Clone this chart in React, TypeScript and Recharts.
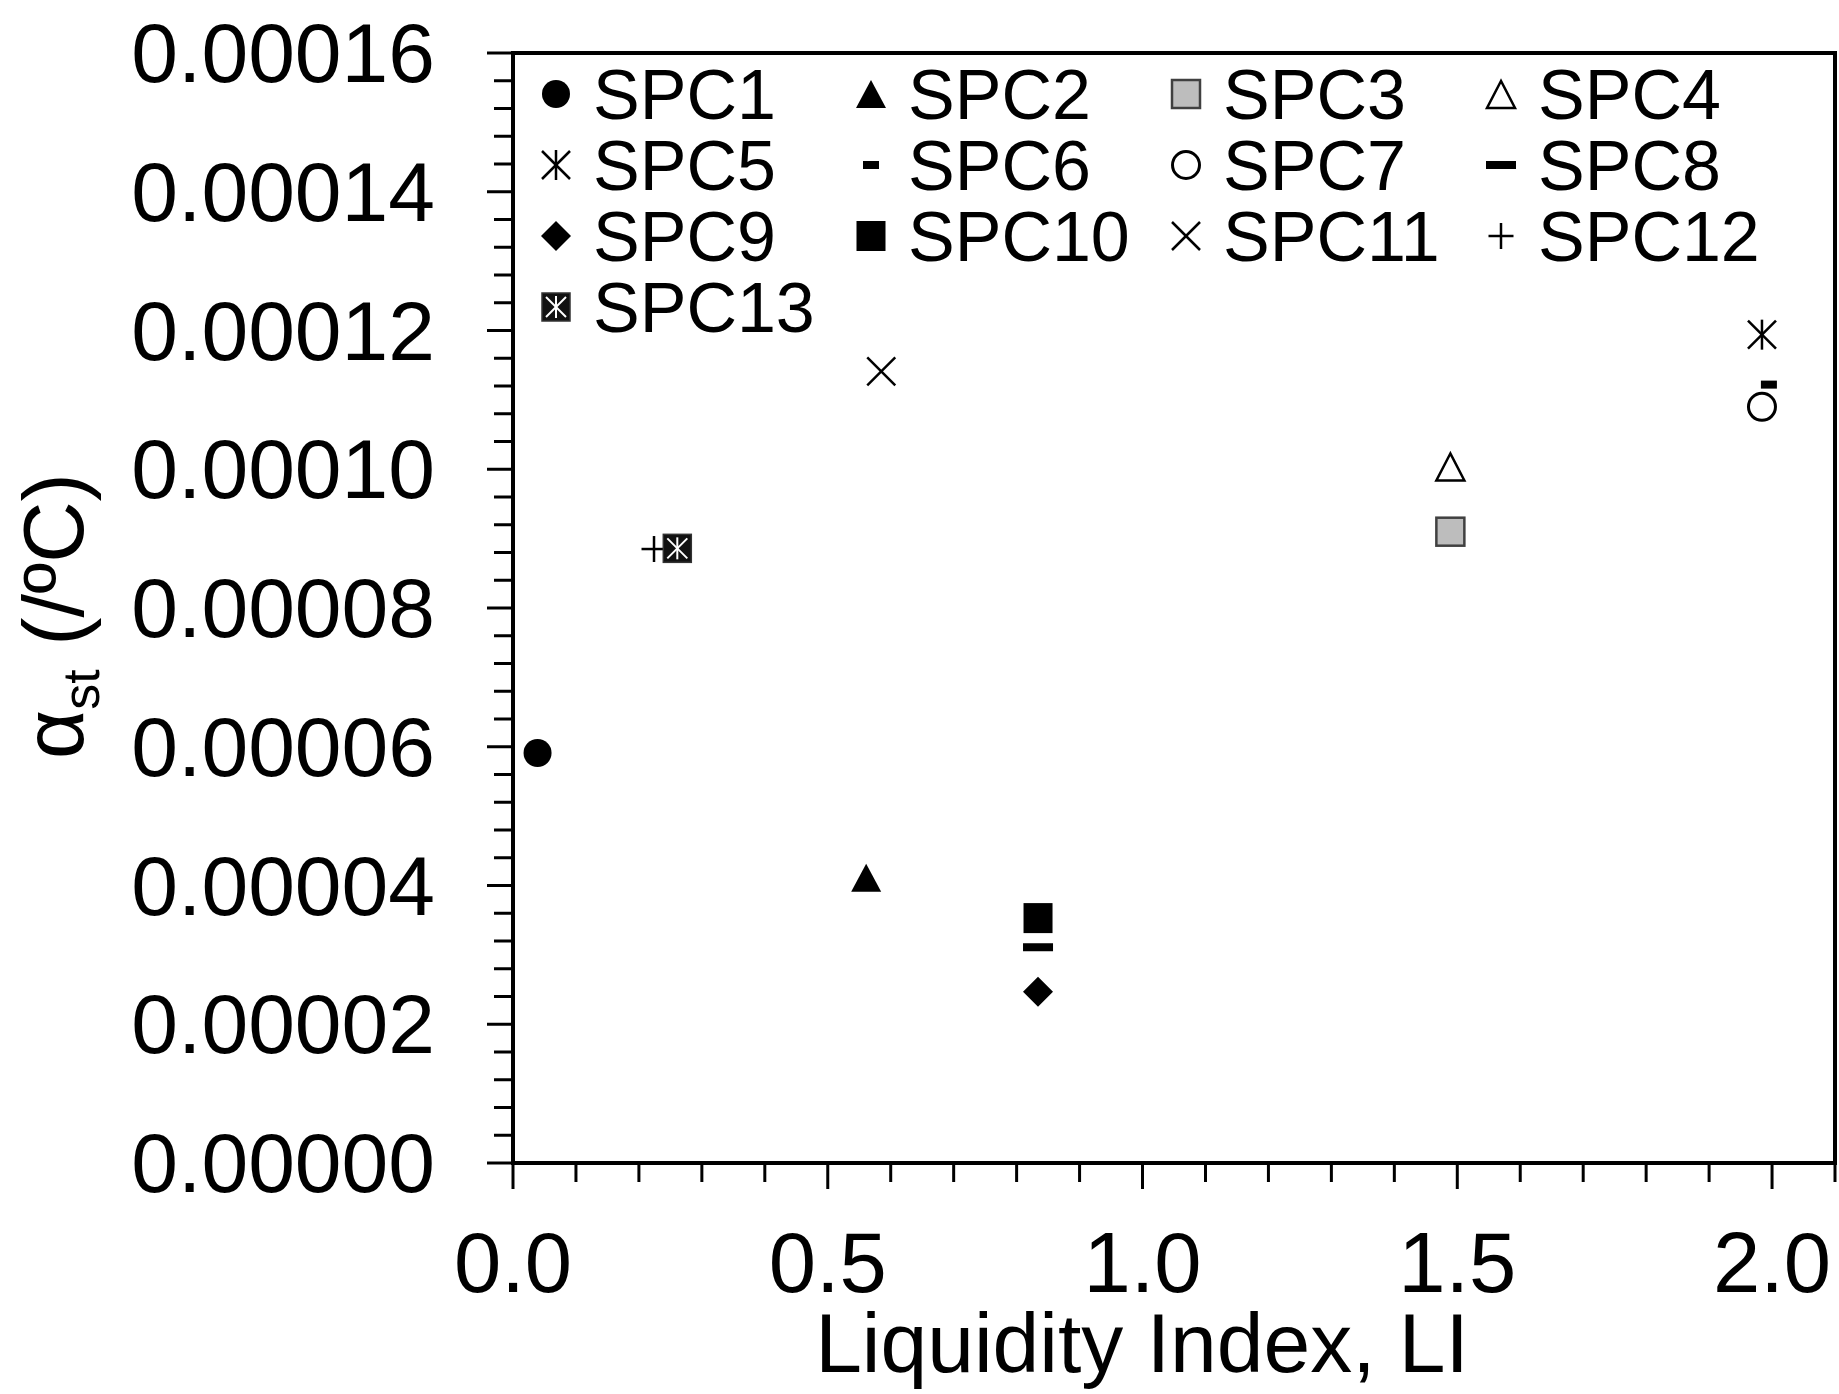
import React from "react";
import { ScatterChart, Scatter, XAxis, YAxis, Legend, ReferenceArea } from "recharts";

// one point per specimen
const seriesNames = [
  "SPC1", "SPC2", "SPC3", "SPC4", "SPC5", "SPC6", "SPC7",
  "SPC8", "SPC9", "SPC10", "SPC11", "SPC12", "SPC13",
];
const liquidityIndex = [
  0.039, 0.561, 1.489, 1.489, 1.984, 1.995, 1.984,
  0.834, 0.834, 0.834, 0.585, 0.224, 0.261,
];
const alphaSt = [
  5.91e-5, 4.11e-5, 9.1e-5, 1.004e-4, 1.194e-4, 1.122e-4, 1.09e-4,
  3.11e-5, 2.47e-5, 3.53e-5, 1.141e-4, 8.85e-5, 8.86e-5,
];
const markerKinds = [
  "dot", "triangle", "graySquare", "openTriangle", "asterisk", "shortDash", "openCircle",
  "longDash", "diamond", "square", "cross", "plus", "boxStar",
];

const xMajorTicks = [0, 0.5, 1, 1.5, 2];
const xTickLabels = ["0.0", "0.5", "1.0", "1.5", "2.0"];
const yMajorTicks = [0, 0.00002, 0.00004, 0.00006, 0.00008, 0.0001, 0.00012, 0.00014, 0.00016];
const yTickLabels = [
  "0.00000", "0.00002", "0.00004", "0.00006", "0.00008",
  "0.00010", "0.00012", "0.00014", "0.00016",
];

const X_MAX = 2.1;
const Y_MAX = 0.00016;
const FONT = '"Liberation Sans", Arial, sans-serif';

// minor ticks: 0.1 on x, 0.000004 on y
const xTicks: number[] = [];
for (let i = 0; i <= 21; i++) xTicks.push(+(i * 0.1).toFixed(1));
const yTicks: number[] = [];
for (let i = 0; i <= 40; i++) yTicks.push(+(i * 0.000004).toFixed(6));

function Marker({ kind, cx, cy }: { kind: string; cx: number; cy: number }) {
  switch (kind) {
    case "dot":
      return <circle cx={cx} cy={cy} r={14} fill="#000" />;
    case "triangle":
      return <polygon points={`${cx},${cy - 14} ${cx - 15},${cy + 14} ${cx + 15},${cy + 14}`} fill="#000" />;
    case "graySquare":
      return <rect x={cx - 14} y={cy - 14} width={28} height={28} fill="#bdbdbd" stroke="#404040" strokeWidth={2.5} />;
    case "openTriangle":
      return (
        <polygon
          points={`${cx},${cy - 13} ${cx - 14},${cy + 14} ${cx + 14},${cy + 14}`}
          fill="#fff"
          stroke="#000"
          strokeWidth={2.5}
        />
      );
    case "asterisk":
      return (
        <g stroke="#000" strokeWidth={2.5}>
          <line x1={cx - 14} y1={cy - 14} x2={cx + 14} y2={cy + 14} />
          <line x1={cx + 14} y1={cy - 14} x2={cx - 14} y2={cy + 14} />
          <line x1={cx} y1={cy - 15} x2={cx} y2={cy + 15} />
        </g>
      );
    case "shortDash":
      return <rect x={cx - 8} y={cy - 4} width={16} height={8} fill="#000" />;
    case "openCircle":
      return <circle cx={cx} cy={cy} r={13.5} fill="#fff" stroke="#000" strokeWidth={3} />;
    case "longDash":
      return <rect x={cx - 15} y={cy - 4} width={30} height={8} fill="#000" />;
    case "diamond":
      return <polygon points={`${cx},${cy - 15} ${cx + 15},${cy} ${cx},${cy + 15} ${cx - 15},${cy}`} fill="#000" />;
    case "square":
      return <rect x={cx - 14.5} y={cy - 15} width={29} height={30} fill="#000" />;
    case "cross":
      return (
        <g stroke="#000" strokeWidth={2.5}>
          <line x1={cx - 14} y1={cy - 14} x2={cx + 14} y2={cy + 14} />
          <line x1={cx + 14} y1={cy - 14} x2={cx - 14} y2={cy + 14} />
        </g>
      );
    case "plus":
      return (
        <g stroke="#000" strokeWidth={2.5}>
          <line x1={cx - 12.5} y1={cy} x2={cx + 12.5} y2={cy} />
          <line x1={cx} y1={cy - 13} x2={cx} y2={cy + 13} />
        </g>
      );
    case "boxStar":
      return (
        <g>
          <rect x={cx - 14} y={cy - 14} width={28} height={28} fill="#111" stroke="#333" strokeWidth={1.5} />
          <g stroke="#fff" strokeWidth={2}>
            <line x1={cx - 10} y1={cy - 10} x2={cx + 10} y2={cy + 10} />
            <line x1={cx + 10} y1={cy - 10} x2={cx - 10} y2={cy + 10} />
            <line x1={cx} y1={cy - 11} x2={cx} y2={cy + 11} />
          </g>
        </g>
      );
    default:
      return null;
  }
}

const XTick = (props: any) => {
  const { x, y, payload } = props;
  const idx = xMajorTicks.findIndex((m) => Math.abs(m - payload.value) < 1e-9);
  const len = idx >= 0 ? 26 : 19;
  return (
    <g>
      <line x1={x} y1={y} x2={x} y2={y + len} stroke="#000" strokeWidth={3} />
      {idx >= 0 && (
        <text x={x} y={y + 129} textAnchor="middle" fontSize={85} fontFamily={FONT} fill="#000">
          {xTickLabels[idx]}
        </text>
      )}
    </g>
  );
};

const YTick = (props: any) => {
  const { x, y, payload } = props;
  const idx = yMajorTicks.findIndex((m) => Math.abs(m - payload.value) < 1e-10);
  const len = idx >= 0 ? 26 : 19;
  return (
    <g>
      <line x1={x - len} y1={y} x2={x} y2={y} stroke="#000" strokeWidth={3} />
      {idx >= 0 && (
        <text x={x - 78} y={y + 29} textAnchor="end" fontSize={84} fontFamily={FONT} fill="#000">
          {yTickLabels[idx]}
        </text>
      )}
    </g>
  );
};

const renderLegend = (props: any) => {
  const entries =
    props.payload && props.payload.length ? props.payload : seriesNames.map((n) => ({ value: n }));
  return (
    <svg width={1839} height={360} style={{ display: "block", overflow: "visible" }}>
      {entries.map((entry: any) => {
        const idx = seriesNames.indexOf(entry.value);
        if (idx < 0) return null;
        const cx = 556 + (idx % 4) * 315;
        const cy = 94 + Math.floor(idx / 4) * 71;
        return (
          <g key={entry.value}>
            <Marker kind={markerKinds[idx]} cx={cx} cy={cy} />
            <text x={cx + 37} y={cy + 25} fontSize={70} fontFamily={FONT} fill="#000">
              {entry.value}
            </text>
          </g>
        );
      })}
    </svg>
  );
};

export default function App() {
  return (
    <div
      style={{
        position: "absolute",
        left: 0,
        top: 0,
        width: 1839,
        height: 1394,
        background: "#fff",
        fontFamily: FONT,
      }}
    >
      <ScatterChart width={1839} height={1394} margin={{ top: 53, right: 4, bottom: 0, left: 0 }}>
        <XAxis
          dataKey="x"
          type="number"
          domain={[0, X_MAX]}
          ticks={xTicks}
          interval={0}
          tickSize={0}
          tickMargin={0}
          tickLine={false}
          tick={XTick}
          height={231}
          axisLine={{ stroke: "#000", strokeWidth: 4 }}
          label={{
            content: () => (
              <text x={1142} y={1372} textAnchor="middle" fontSize={84} fontFamily={FONT} fill="#000">
                Liquidity Index, LI
              </text>
            ),
          }}
        />
        <YAxis
          dataKey="y"
          type="number"
          domain={[0, Y_MAX]}
          ticks={yTicks}
          interval={0}
          tickSize={0}
          tickMargin={0}
          tickLine={false}
          tick={YTick}
          width={513}
          axisLine={{ stroke: "#000", strokeWidth: 4 }}
          label={{
            content: () => (
              <text transform="translate(83, 616) rotate(-90)" textAnchor="middle" fontSize={85} fontFamily={FONT} fill="#000">
                <tspan>α</tspan>
                <tspan fontSize={52} dy={16}>st</tspan>
                <tspan dy={-16}> (/ºC)</tspan>
              </text>
            ),
          }}
        />
        <ReferenceArea x1={0} x2={X_MAX} y1={0} y2={Y_MAX} fill="none" stroke="#000" strokeWidth={4} />
        {seriesNames.map((name, i) => (
          <Scatter
            key={name}
            name={name}
            data={[{ x: liquidityIndex[i], y: alphaSt[i] }]}
            fill="#000"
            isAnimationActive={false}
            shape={(p: any) => <Marker kind={markerKinds[i]} cx={p.cx} cy={p.cy} />}
          />
        ))}
        <Legend
          layout="vertical"
          align="center"
          verticalAlign="middle"
          content={renderLegend}
          wrapperStyle={{ left: 0, top: 0, width: 1839, height: 360 }}
        />
      </ScatterChart>
    </div>
  );
}
